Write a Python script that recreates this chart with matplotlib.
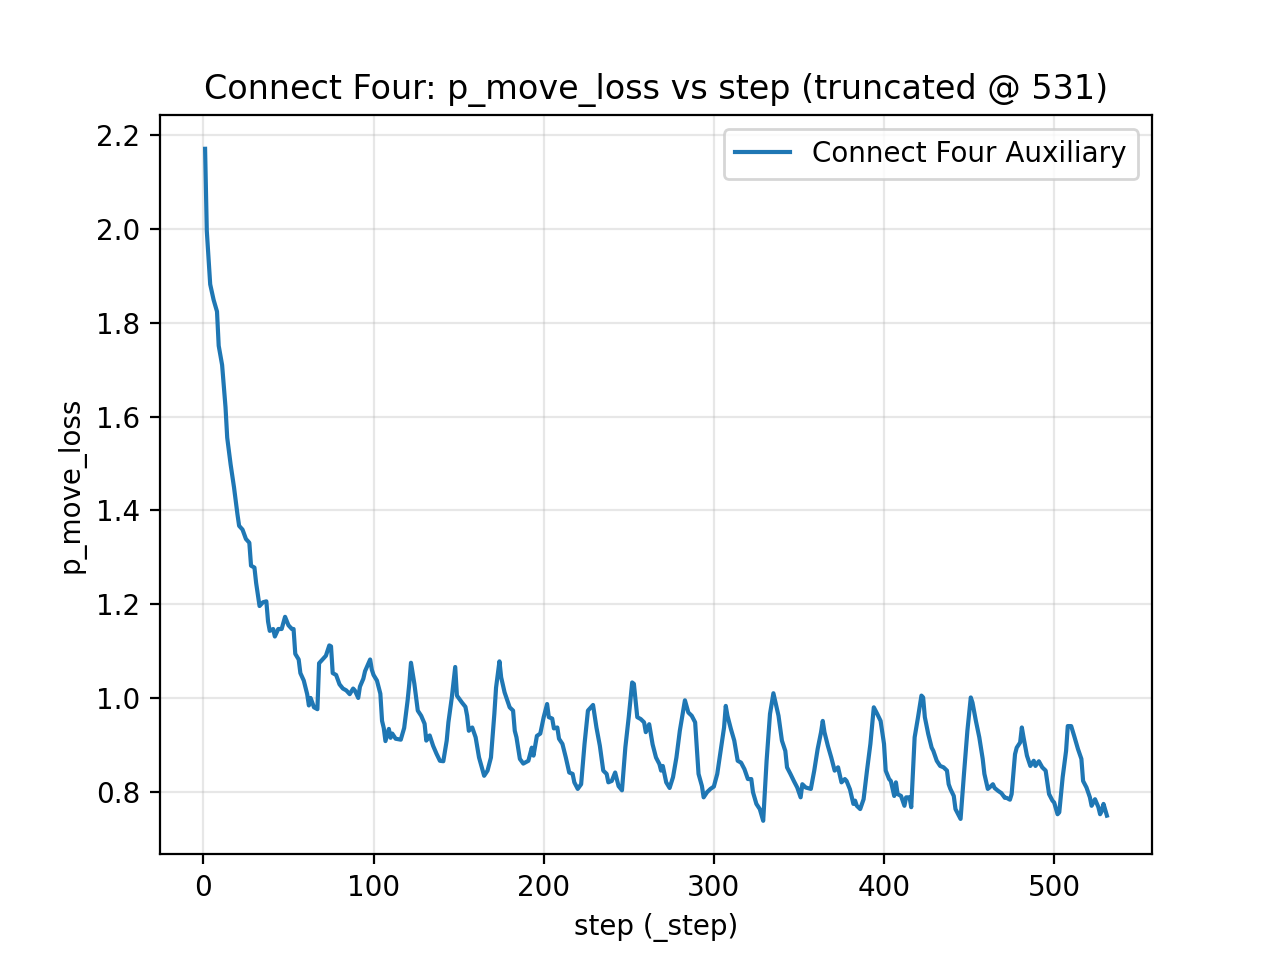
import matplotlib
matplotlib.use("Agg")
import matplotlib.pyplot as plt

# Werte (step, p_move_loss)
steps = [
    1, 2, 3, 4, 6, 8, 9, 11, 13, 14, 16, 18, 20, 21, 23, 25, 27, 28, 30, 31,
    33, 35, 37, 38, 39, 41, 42, 44, 46, 48, 50, 52, 53, 54, 56, 57, 59, 61, 62, 63,
    65, 67, 68, 70, 72, 74, 75, 76, 78, 80, 82, 84, 86, 88, 89, 91, 92, 94, 95, 98,
    99, 100, 102, 104, 105, 106, 107, 109, 110, 111, 113, 116, 118, 120, 121, 122, 124, 126, 128, 130,
    131, 133, 135, 137, 139, 141, 143, 144, 146, 148, 149, 152, 154, 155, 156, 158, 160, 162, 165, 167,
    169, 171, 172, 174, 175, 177, 180, 182, 183, 184, 186, 188, 191, 193, 194, 196, 198, 200, 202, 203,
    205, 206, 208, 209, 211, 213, 215, 217, 218, 220, 222, 224, 226, 229, 231, 233, 235, 237, 238, 240,
    242, 244, 246, 248, 250, 252, 253, 255, 257, 259, 260, 262, 264, 266, 268, 269, 270, 272, 274, 276,
    278, 280, 282, 283, 285, 287, 289, 290, 291, 293, 294, 296, 298, 300, 302, 304, 306, 307, 308, 310,
    312, 314, 316, 318, 320, 322, 323, 325, 327, 329, 331, 333, 335, 336, 338, 340, 342, 343, 345, 347,
    349, 351, 352, 354, 357, 359, 361, 363, 364, 365, 367, 369, 371, 373, 375, 377, 378, 380, 382, 383,
    384, 386, 388, 390, 392, 394, 396, 398, 400, 401, 403, 404, 406, 407, 408, 410, 412, 413, 415, 416,
    418, 420, 422, 423, 424, 426, 428, 429, 431, 433, 435, 437, 438, 439, 441, 442, 445, 447, 449, 451,
    452, 454, 456, 458, 459, 461, 462, 464, 465, 467, 469, 471, 472, 474, 475, 477, 478, 480, 481, 482,
    484, 486, 488, 489, 491, 493, 495, 497, 499, 500, 502, 503, 505, 507, 508, 510, 512, 514, 516, 517,
    519, 521, 522, 524, 526, 527, 528, 529, 531,
]
p_move_loss = [
    2.171, 1.996, 1.939, 1.882, 1.849, 1.824, 1.751, 1.710, 1.620, 1.555, 1.498, 1.449, 1.392, 1.367, 1.359, 1.339, 1.331, 1.282, 1.278, 1.245,
    1.196, 1.204, 1.206, 1.163, 1.143, 1.147, 1.131, 1.147, 1.147, 1.173, 1.155, 1.147, 1.147, 1.094, 1.082, 1.053, 1.037, 1.008, 0.984, 1.000,
    0.980, 0.976, 1.074, 1.082, 1.090, 1.112, 1.110, 1.053, 1.049, 1.029, 1.020, 1.016, 1.008, 1.020, 1.016, 1.000, 1.024, 1.041, 1.057, 1.082,
    1.060, 1.049, 1.037, 1.009, 0.951, 0.936, 0.908, 0.934, 0.915, 0.924, 0.913, 0.911, 0.936, 0.994, 1.030, 1.075, 1.030, 0.973, 0.962, 0.945,
    0.909, 0.920, 0.898, 0.881, 0.866, 0.865, 0.909, 0.948, 1.001, 1.066, 1.005, 0.990, 0.981, 0.962, 0.930, 0.937, 0.916, 0.873, 0.834, 0.845,
    0.873, 0.966, 1.022, 1.078, 1.044, 1.012, 0.980, 0.973, 0.930, 0.916, 0.870, 0.860, 0.866, 0.894, 0.877, 0.919, 0.924, 0.959, 0.987, 0.959,
    0.956, 0.935, 0.937, 0.913, 0.902, 0.873, 0.841, 0.838, 0.820, 0.806, 0.816, 0.902, 0.973, 0.985, 0.937, 0.898, 0.845, 0.838, 0.820, 0.823,
    0.841, 0.812, 0.803, 0.895, 0.960, 1.033, 1.030, 0.959, 0.955, 0.948, 0.927, 0.944, 0.901, 0.873, 0.859, 0.845, 0.855, 0.820, 0.808, 0.831,
    0.873, 0.930, 0.973, 0.995, 0.969, 0.962, 0.948, 0.894, 0.838, 0.812, 0.788, 0.799, 0.806, 0.811, 0.838, 0.887, 0.937, 0.983, 0.962, 0.934,
    0.909, 0.866, 0.862, 0.848, 0.827, 0.827, 0.799, 0.774, 0.763, 0.738, 0.866, 0.966, 1.010, 0.994, 0.962, 0.909, 0.887, 0.852, 0.838, 0.823,
    0.809, 0.788, 0.816, 0.809, 0.806, 0.845, 0.891, 0.927, 0.951, 0.927, 0.898, 0.873, 0.845, 0.852, 0.820, 0.827, 0.823, 0.805, 0.774, 0.781,
    0.770, 0.763, 0.784, 0.845, 0.902, 0.980, 0.966, 0.951, 0.902, 0.845, 0.827, 0.823, 0.791, 0.820, 0.795, 0.791, 0.770, 0.788, 0.788, 0.767,
    0.916, 0.959, 1.005, 1.001, 0.959, 0.923, 0.894, 0.887, 0.866, 0.855, 0.852, 0.845, 0.816, 0.806, 0.791, 0.763, 0.742, 0.838, 0.930, 1.001,
    0.990, 0.951, 0.916, 0.870, 0.838, 0.806, 0.809, 0.816, 0.808, 0.802, 0.797, 0.787, 0.787, 0.783, 0.795, 0.880, 0.894, 0.905, 0.937, 0.916,
    0.877, 0.855, 0.866, 0.855, 0.865, 0.852, 0.845, 0.795, 0.781, 0.777, 0.752, 0.756, 0.831, 0.887, 0.940, 0.940, 0.916, 0.891, 0.870, 0.823,
    0.809, 0.788, 0.770, 0.784, 0.767, 0.752, 0.759, 0.774, 0.749,
]

fig, ax = plt.subplots(figsize=(6.4, 4.8), dpi=200)
ax.plot(steps, p_move_loss, color="#1f77b4", label="Connect Four Auxiliary")
ax.set_xlabel("step (_step)")
ax.set_ylabel("p_move_loss")
ax.set_title("Connect Four: p_move_loss vs step (truncated @ 531)")
ax.legend(loc="upper right")
ax.grid(True, alpha=0.3)
fig.savefig("out.png", dpi=200)
